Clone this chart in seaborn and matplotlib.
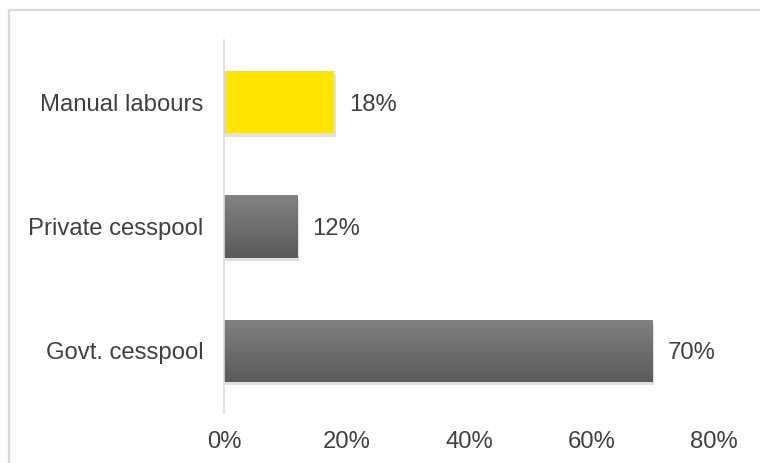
import matplotlib
matplotlib.use("Agg")
import matplotlib.pyplot as plt
import matplotlib.patheffects as pe
import numpy as np
import pandas as pd
import seaborn as sns
from matplotlib.colors import LinearSegmentedColormap
from matplotlib.patches import Rectangle

# Data
categories = ["Manual labours", "Private cesspool", "Govt. cesspool"]
shares = [18, 12, 70]
xticks = [0, 20, 40, 60, 80]

df = pd.DataFrame({"category": categories, "share": shares})

sns.set_theme(style="white")
plt.rcParams["font.family"] = ["Liberation Sans", "DejaVu Sans"]

text_color = "#404040"
fsize = 17.2
fig = plt.figure(figsize=(7.6, 4.63), dpi=100)
fig.patch.set_facecolor("white")

# Outer chart frame
fig.add_artist(Rectangle((8.5 / 760, -0.05), 1.1, 1 - 10.5 / 463 + 0.05,
                         transform=fig.transFigure, fill=False,
                         edgecolor="#d9d9d9", linewidth=1.6))

ax = fig.add_axes([224 / 760, 1 - 413 / 463, (714 - 224) / 760, 373 / 463])

sns.barplot(data=df, y="category", x="share", order=categories,
            orient="h", width=0.5, ax=ax, color="#707070", saturation=1)

gray_grad = LinearSegmentedColormap.from_list("g", ["#828282", "#5a5a5a"])
for patch, cat in zip(ax.patches, categories):
    patch.set_edgecolor("none")
    patch.set_path_effects([pe.SimplePatchShadow(offset=(1, -2.5), shadow_rgbFace="#000000",
                                                 alpha=0.12), pe.Normal()])
    if cat == "Manual labours":
        patch.set_facecolor("#ffe600")
    else:
        x0, y0 = patch.get_x(), patch.get_y()
        w, h = patch.get_width(), patch.get_height()
        grad = np.linspace(0, 1, 256).reshape(-1, 1)
        im = ax.imshow(grad, cmap=gray_grad, aspect="auto",
                       extent=(x0, x0 + w, y0 + h, y0), origin="upper",
                       zorder=patch.get_zorder() + 0.1)
        im.set_clip_path(patch)

for cat, val in zip(categories, shares):
    ax.text(val + 2.4, categories.index(cat), f"{val}%", va="center_baseline", ha="left",
            fontsize=fsize, color=text_color)

ax.set_xlim(0, 80)
ax.set_ylim(2.5, -0.5)
ax.set_xticks(xticks)
ax.set_xticklabels([f"{t}%" for t in xticks], fontsize=fsize, color=text_color)
ax.set_yticks(range(len(categories)))
ax.set_yticklabels(categories, fontsize=fsize, color=text_color)
ax.tick_params(axis="x", length=0, pad=13)
ax.tick_params(axis="y", length=0, pad=15)
ax.set_xlabel("")
ax.set_ylabel("")
for side in ["top", "right", "bottom"]:
    ax.spines[side].set_visible(False)
ax.spines["left"].set_color("#d9d9d9")
ax.spines["left"].set_linewidth(1.2)
ax.set_facecolor("none")

fig.savefig("out.png", dpi=100)
